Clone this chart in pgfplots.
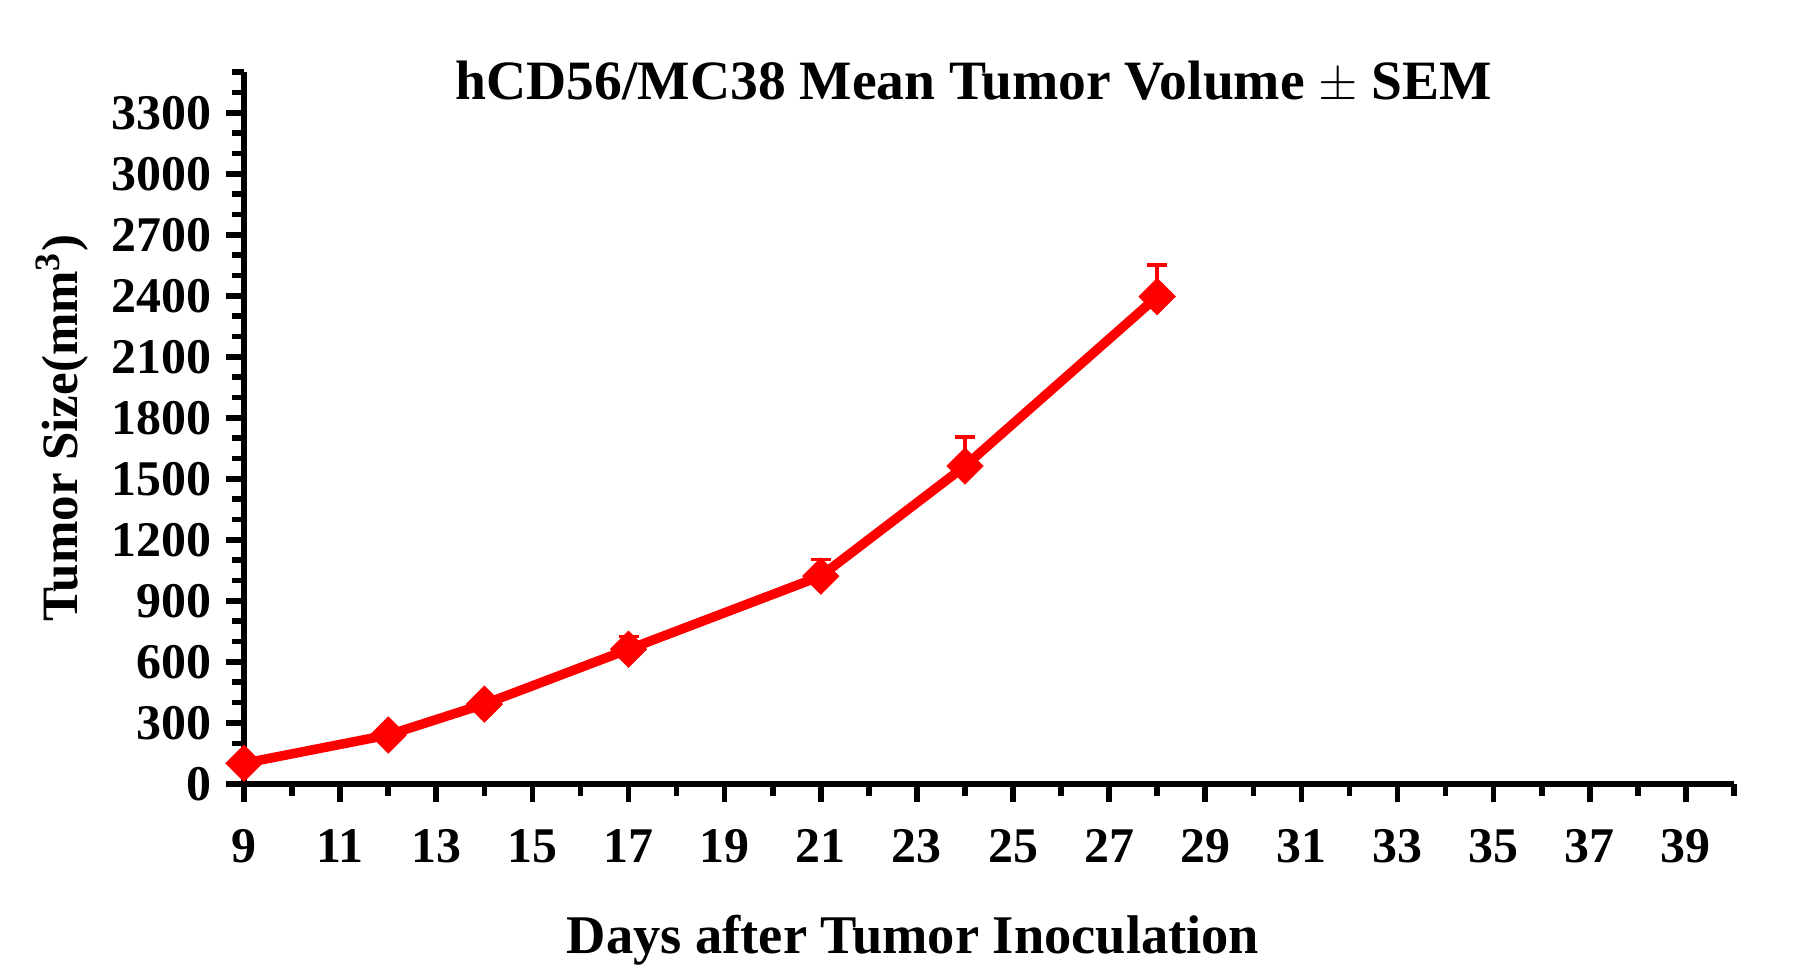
\documentclass[border=0pt]{standalone}
\usepackage{fontspec}
\setmainfont{Liberation Serif}
\usepackage{pgfplots}
\pgfplotsset{compat=1.18}
\definecolor{pred}{RGB}{255,0,0}
\begin{document}
\begin{tikzpicture}
\path[use as bounding box] (-24.4mm,-19.4mm) rectangle (155.8mm,78.4mm);
\begin{axis}[
  at={(0,0)}, anchor=south west,
  scale only axis, width=149.0mm, height=71.2mm,
  xmin=9, xmax=40, ymin=0, ymax=3500,
  axis lines*=left,
  axis line style={line width=1.6pt},
  every tick/.style={black, line width=1.6pt},
  tick align=outside,
  major tick length=1.8mm, minor tick length=1.2mm,
  xtick={9,11,...,39}, minor xtick={10,12,...,40},
  ytick={0,300,...,3300}, minor ytick={100,200,...,3500},
  /pgf/number format/assume math mode=true,
  /pgf/number format/1000 sep={},
  tick label style={font=\bfseries\fontsize{14.2}{14.2}\selectfont},
  xticklabel style={yshift=-1.5mm},
  yticklabel style={xshift=-0.2mm},
  clip=false,
  title={hCD56/MC38 Mean Tumor Volume $\pm$ SEM},
  title style={font=\bfseries\fontsize{15.8}{15.8}\selectfont, at={(axis description cs:0.490,1)}, anchor=base, yshift=-4.9mm},
  xlabel={Days after Tumor Inoculation},
  xlabel style={font=\bfseries\fontsize{15.5}{15.5}\selectfont, at={(axis description cs:0.449,0)}, anchor=base, yshift=-16.9mm},
  ylabel={Tumor Size(mm\textsuperscript{3})},
  ylabel style={font=\bfseries\fontsize{14.5}{14.5}\selectfont, at={(axis description cs:-0.1222,0.5)}, anchor=center, rotate=0},
]
\addplot[pred, line width=2.7pt, mark=square*, mark size=1.3mm,
  mark options={rotate=45, solid, fill=pred, draw=pred, line width=0.1pt},
  error bars/.cd, y dir=plus, y explicit,
  error bar style={line width=1pt, pred},
  error mark options={rotate=90, mark size=1mm, line width=1pt, pred}]
  table[x=x, y=y, y error=e] {
x y e
9 102 8
12 241 15
14 393 25
17 662 62
21 1022 82
24 1563 144
28 2396 156
};
\end{axis}
\end{tikzpicture}
\end{document}
